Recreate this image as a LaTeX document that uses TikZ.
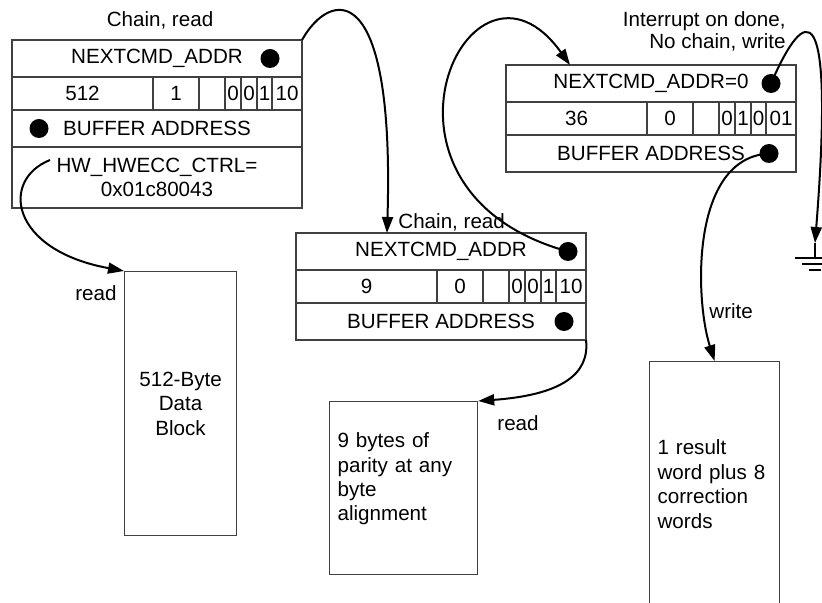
\documentclass[tikz,border=0pt]{standalone}
\usepackage{fontspec}
\setmainfont{Liberation Sans}
\usetikzlibrary{arrows.meta,positioning}

\begin{document}
\begin{tikzpicture}[
  x=0.5pt, y=-0.5pt,
  font=\fontsize{10.3}{12.2}\selectfont,
  row/.style={rectangle,draw=black!75,line width=0.6pt,fill=white,
              minimum width=145pt,inner sep=0pt,outer sep=0pt,anchor=north west},
  cell/.style={rectangle,draw=black!75,line width=0.6pt,
               minimum height=16.5pt,inner sep=0pt,outer sep=0pt},
  dot/.style={circle,fill=black,inner sep=0pt,minimum size=9.5pt},
  blk/.style={rectangle,draw=black!75,line width=0.6pt,anchor=north west,inner sep=4pt},
  lbl/.style={inner sep=0pt},
  ptr/.style={-{Triangle[length=8pt,width=5.5pt]},line width=1pt},
]
\useasboundingbox (0,0) rectangle (822,603);

\node[row,minimum height=18.5pt] (d1a) at (12,40) {NEXTCMD\_ADDR};
\node[cell,minimum width=70.5pt,anchor=north west] (c1a) at (d1a.south west) {512};
\node[cell,minimum width=23pt,right=0pt of c1a] (c1b) {1};
\node[cell,minimum width=13pt,right=0pt of c1b] (c1c) {};
\node[cell,minimum width=8pt,right=0pt of c1c] (c1d) {0};
\node[cell,minimum width=8pt,right=0pt of c1d] (c1e) {0};
\node[cell,minimum width=7.5pt,right=0pt of c1e] (c1f) {1};
\node[cell,minimum width=15pt,right=0pt of c1f] (c1g) {10};
\node[row,minimum height=18.5pt] (d1c) at (c1a.south west) {BUFFER ADDRESS};
\node[row,minimum height=30.5pt,align=center] (d1d) at (d1c.south west) {HW\_HWECC\_CTRL=\\0x01c80043};
\node[dot] (p1a) at ([xshift=-16pt]d1a.east) {};
\node[dot] (p1c) at ([xshift=13.5pt]d1c.west) {};

\node[row,minimum height=18.5pt] (d2a) at (296,233) {NEXTCMD\_ADDR};
\node[cell,minimum width=70.5pt,anchor=north west] (c2a) at (d2a.south west) {9};
\node[cell,minimum width=23pt,right=0pt of c2a] (c2b) {0};
\node[cell,minimum width=13pt,right=0pt of c2b] (c2c) {};
\node[cell,minimum width=8pt,right=0pt of c2c] (c2d) {0};
\node[cell,minimum width=8pt,right=0pt of c2d] (c2e) {0};
\node[cell,minimum width=7.5pt,right=0pt of c2e] (c2f) {1};
\node[cell,minimum width=15pt,right=0pt of c2f] (c2g) {10};
\node[row,minimum height=18.5pt] (d2c) at (c2a.south west) {BUFFER ADDRESS};
\node[dot] (p2a) at ([xshift=-9pt]d2a.east) {};
\node[dot] (p2c) at ([xshift=-11pt]d2c.east) {};

\node[row,minimum height=18.5pt] (d3a) at (506,65) {NEXTCMD\_ADDR=0};
\node[cell,minimum width=70.5pt,anchor=north west] (c3a) at (d3a.south west) {36};
\node[cell,minimum width=23pt,right=0pt of c3a] (c3b) {0};
\node[cell,minimum width=13pt,right=0pt of c3b] (c3c) {};
\node[cell,minimum width=8pt,right=0pt of c3c] (c3d) {0};
\node[cell,minimum width=8pt,right=0pt of c3d] (c3e) {1};
\node[cell,minimum width=7.5pt,right=0pt of c3e] (c3f) {0};
\node[cell,minimum width=15pt,right=0pt of c3f] (c3g) {01};
\node[row,minimum height=18.5pt] (d3c) at (c3a.south west) {BUFFER ADDRESS};
\node[dot] (p3a) at ([xshift=-12.5pt]d3a.east) {};
\node[dot] (p3c) at ([xshift=-13.5pt]d3c.east) {};

\node[blk,minimum width=56pt,minimum height=132pt,align=center] (blk) at (124,271) {512-Byte\\Data\\Block};
\node[blk,minimum width=74pt,minimum height=86.5pt,text width=66pt,text depth=47.8pt,align=left] (par) at (329,401)
  {9 bytes of\\parity at any\\byte\\alignment};
\node[blk,minimum width=65pt,minimum height=122.5pt,text width=57pt,align=left] (wr) at (649,361)
  {1 result\\word plus 8\\correction\\words};

\node[lbl] (l1) at (160,20) {Chain, read};
\node[lbl,anchor=west] (l2) at (398,222) {Chain, read};
\node[lbl,anchor=east,align=right,font=\fontsize{10.3}{11}\selectfont] (l3) at (786,31)
  {Interrupt on done,\\No chain, write};
\node[lbl,anchor=east] (l4) at (117,293) {read};
\node[lbl,anchor=west] (l5) at (497,423) {read};
\node[lbl,anchor=west] (l6) at (709,311) {write};

\coordinate (hwptr) at ([xshift=19pt,yshift=-6.5pt]d1d.north west);
\coordinate (gnd) at (815,243);
\draw[line width=0.8pt] (gnd) -- ++(0,15) ++(-20,0) -- ++(40,0)
  ++(-33,6) -- ++(26,0) ++(-19,6) -- ++(12,0);

\draw[ptr] (d1a.north east) .. controls (330,-10) and (395,-25) .. ([xshift=45.5pt]d2a.north west);
\draw[ptr] (hwptr) .. controls (0,180) and (10,250) .. (blk.north west);
\draw[ptr] (p2a.center) .. controls (345,190) and (470,-75) .. ([xshift=32pt]d3a.north west);
\draw[ptr] (d2c.south east) .. controls (590,375) and (560,395) .. (par.north east);
\draw[ptr] (p3a.center) .. controls (805,5) and (835,-10) .. (gnd);
\draw[ptr] (p3c.center) .. controls (690,158) and (695,300) .. (wr.north);

\end{tikzpicture}
\end{document}
